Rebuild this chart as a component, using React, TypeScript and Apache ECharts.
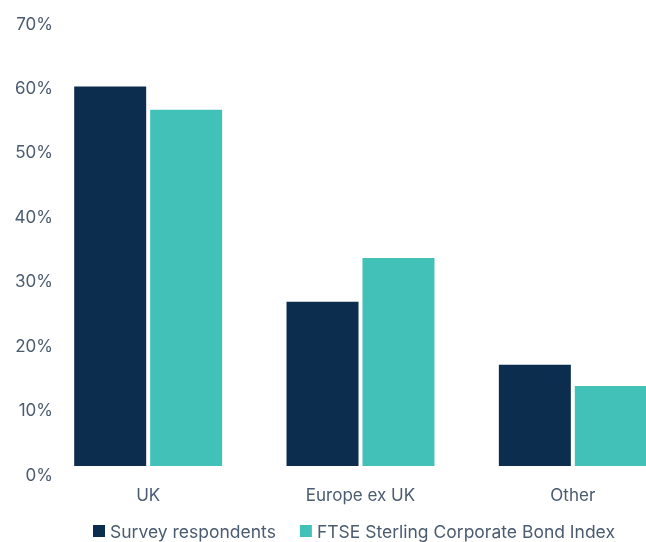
import React, { useEffect, useRef } from "react";
import * as echarts from "echarts";

const categories = ["UK", "Europe ex UK", "Other"];
const surveyValues = [58.9, 25.5, 15.7];
const ftseValues = [55.3, 32.3, 12.4];
const seriesNames = ["Survey respondents", "FTSE Sterling Corporate Bond Index"];

const FONT = "Inter, Roboto, sans-serif";
const TEXT = "#4b5b70";

export default function App() {
  const ref = useRef<HTMLDivElement>(null);
  useEffect(() => {
    const chart = echarts.init(ref.current!, null, { renderer: "svg" });
    chart.setOption({
      animation: false,
      legend: {
        left: 88,
        top: 517,
        itemWidth: 12,
        itemHeight: 12,
        itemGap: 24,
        icon: "rect",
        textStyle: { fontFamily: FONT, fontSize: 17.5, color: TEXT },
        data: seriesNames,
      },
      grid: {
        left: 42,
        width: 637,
        top: 15,
        height: 451,
        containLabel: false,
        outerBoundsMode: "none",
      },
      xAxis: {
        type: "category",
        data: categories,
        axisLine: { show: false },
        axisTick: { show: false },
        axisLabel: { margin: 20, fontFamily: FONT, fontSize: 17, color: TEXT },
      },
      yAxis: {
        type: "value",
        min: 0,
        max: 70,
        interval: 10,
        splitLine: { show: false },
        axisLine: { show: false },
        axisTick: { show: false },
        axisLabel: {
          formatter: "{value}%",
          align: "right",
          verticalAlign: "top",
          margin: -11,
          fontFamily: FONT,
          fontSize: 17,
          color: TEXT,
        },
      },
      series: [
        {
          name: seriesNames[0],
          type: "bar",
          data: surveyValues,
          barWidth: 72,
          barGap: "5.5%",
          itemStyle: { color: "#0c2d4e" },
        },
        {
          name: seriesNames[1],
          type: "bar",
          data: ftseValues,
          barWidth: 72,
          itemStyle: { color: "#42c1b9" },
        },
      ],
    });
    return () => chart.dispose();
  }, []);
  return <div ref={ref} style={{ width: 646, height: 542, position: "fixed", left: 0, top: 0 }} />;
}
